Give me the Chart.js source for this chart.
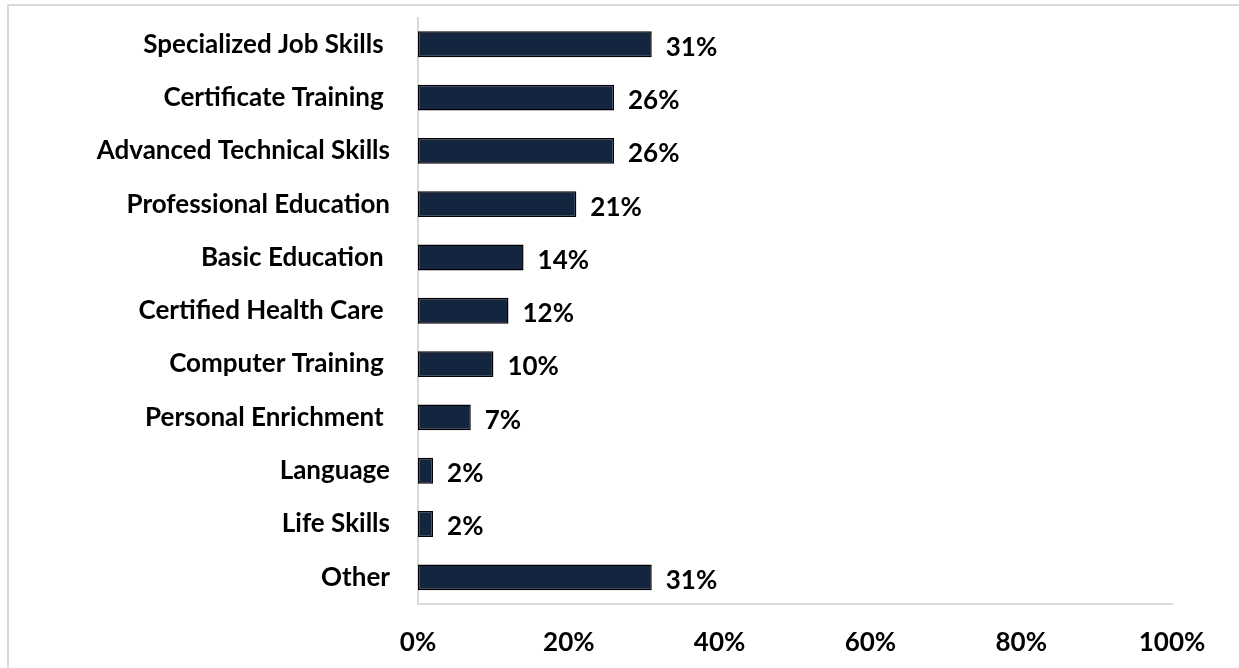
<!DOCTYPE html>
<html>
<head>
<meta charset="utf-8">
<script src="https://cdn.jsdelivr.net/npm/chart.js@4.4.1/dist/chart.umd.min.js"></script>
<style>
  html, body { margin: 0; padding: 0; background: #fff; }
  #wrap { position: relative; width: 1239px; height: 668px; overflow: hidden; }
  #frame { position: absolute; left: 7px; top: 4px; width: 1300px; height: 700px;
           border-top: 2px solid #d9d9d9; border-left: 2px solid #d9d9d9; }
  canvas { position: absolute; left: 0; top: 0; }
</style>
</head>
<body>
<div id="wrap">
  <div id="frame"></div>
  <canvas id="trainingChart" width="1239" height="668"></canvas>
</div>
<script>
const categories = [
  'Specialized Job Skills ',
  'Certificate Training ',
  'Advanced Technical Skills',
  'Professional Education',
  'Basic Education ',
  'Certified Health Care ',
  'Computer Training ',
  'Personal Enrichment ',
  'Language',
  'Life Skills',
  'Other'
];
const shares = [31, 26, 26, 21, 14, 12, 10, 7, 2, 2, 31];
const xTicks = [0, 20, 40, 60, 80, 100];

const FONT = 'Lato, "Open Sans", sans-serif';
const FONT_SIZE = 26;

// value labels just past the end of each bar
const barLabels = {
  id: 'barLabels',
  afterDatasetsDraw(chart) {
    const ctx = chart.ctx;
    const meta = chart.getDatasetMeta(0);
    ctx.save();
    ctx.font = 'bold ' + FONT_SIZE + 'px ' + FONT;
    ctx.fillStyle = '#000';
    ctx.textAlign = 'left';
    ctx.textBaseline = 'middle';
    meta.data.forEach((bar, i) => {
      ctx.fillText(shares[i] + '%', bar.x + 14, bar.y + 3);
    });
    ctx.restore();
  }
};

new Chart(document.getElementById('trainingChart'), {
  type: 'bar',
  data: {
    labels: categories,
    datasets: [{
      data: shares,
      backgroundColor: '#14253f',
      borderColor: '#000',
      borderWidth: 1.5,
      borderSkipped: false,
      barPercentage: 0.485,
      categoryPercentage: 1
    }]
  },
  options: {
    indexAxis: 'y',
    responsive: false,
    animation: false,
    layout: { padding: { top: 15, right: 67, left: 0, bottom: 0 } },
    plugins: { legend: { display: false }, tooltip: { enabled: false } },
    scales: {
      x: {
        min: 0,
        max: 100,
        afterBuildTicks(scale) { scale.ticks = xTicks.map(v => ({ value: v })); },
        afterFit(scale) { scale.height = 64; },
        // spacing comes from tickLength so it does not pad the chart sides
        grid: { display: false, drawTicks: true, tickLength: 21 },
        border: { color: '#d9d9d9', width: 2 },
        ticks: {
          padding: 2,
          color: '#000',
          font: { family: FONT, size: FONT_SIZE, weight: 'bold' },
          callback: v => v + '%'
        }
      },
      y: {
        afterFit(scale) { scale.width = 418; },
        grid: { display: false, drawTicks: true, tickLength: 26 },
        border: { color: '#d9d9d9', width: 2 },
        ticks: {
          padding: 2,
          color: '#000',
          font: { family: FONT, size: FONT_SIZE, weight: 'bold' }
        }
      }
    }
  },
  plugins: [barLabels]
});
</script>
</body>
</html>
